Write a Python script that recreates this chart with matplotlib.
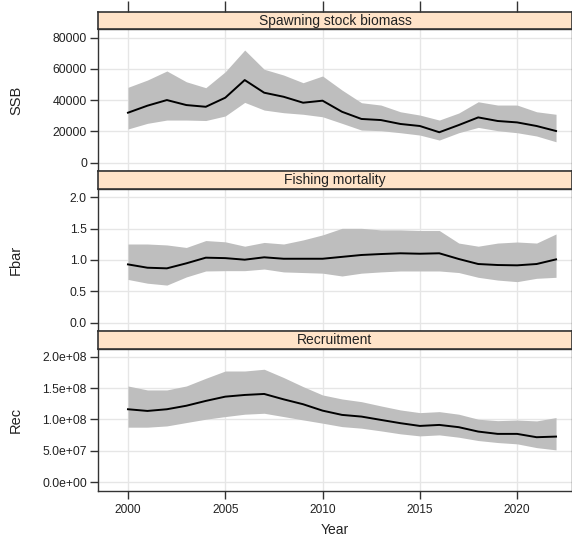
import numpy as np
import matplotlib
matplotlib.use("Agg")
from matplotlib import pyplot as plt

plt.rcParams['font.family'] = ['Liberation Sans', 'DejaVu Sans']

years = np.arange(2000, 2023)

ssb = [32000, 36500, 40100, 36900, 35800, 41600, 52900, 44800, 42200, 38400, 39700, 32600,
       28000, 27300, 24800, 23500, 19500, 24100, 29000, 26700, 25800, 23500, 20300]
ssb_hi = [48250, 52900, 58700, 51800, 48000, 58200, 72100, 59800, 56100, 51200, 55500, 46500,
          38400, 36900, 32600, 30500, 27300, 31800, 39000, 36900, 36900, 32600, 31000]
ssb_lo = [21570, 25200, 27300, 27300, 27000, 29900, 38600, 33700, 32000, 31000, 29400, 25200,
          20900, 20500, 19200, 17700, 14500, 19200, 22600, 20500, 19200, 17100, 13400]

fbar = [0.93, 0.877, 0.867, 0.947, 1.037, 1.03, 1.005, 1.043, 1.02, 1.02, 1.02, 1.05,
        1.08, 1.095, 1.107, 1.10, 1.107, 1.016, 0.936, 0.92, 0.915, 0.936, 1.01]
fbar_hi = [1.255, 1.255, 1.24, 1.20, 1.31, 1.29, 1.22, 1.28, 1.255, 1.32, 1.40, 1.505,
           1.505, 1.48, 1.48, 1.47, 1.47, 1.27, 1.22, 1.27, 1.287, 1.27, 1.415]
fbar_lo = [0.69, 0.63, 0.60, 0.73, 0.825, 0.83, 0.83, 0.856, 0.81, 0.80, 0.79, 0.745,
           0.79, 0.81, 0.825, 0.825, 0.825, 0.80, 0.724, 0.68, 0.655, 0.708, 0.724]

rec = [1.162, 1.135, 1.162, 1.218, 1.295, 1.363, 1.39, 1.406, 1.32, 1.242, 1.14, 1.072,
       1.045, 0.992, 0.94, 0.896, 0.912, 0.876, 0.806, 0.769, 0.769, 0.716, 0.726]
rec_hi = [1.533, 1.47, 1.47, 1.533, 1.656, 1.772, 1.772, 1.80, 1.668, 1.523, 1.39, 1.326,
          1.283, 1.215, 1.151, 1.108, 1.124, 1.083, 1.003, 0.98, 0.99, 0.976, 1.029]
rec_lo = [0.876, 0.876, 0.896, 0.95, 1.003, 1.045, 1.083, 1.098, 1.045, 0.992, 0.94, 0.885,
          0.86, 0.817, 0.77, 0.737, 0.753, 0.716, 0.663, 0.631, 0.61, 0.55, 0.514]
rec = np.array(rec) * 1e8
rec_hi = np.array(rec_hi) * 1e8
rec_lo = np.array(rec_lo) * 1e8

titles = ["Spawning stock biomass", "Fishing mortality", "Recruitment"]
ylabels = ["SSB", "Fbar", "Rec"]
yticks = [[0, 20000, 40000, 60000, 80000],
          [0.0, 0.5, 1.0, 1.5, 2.0],
          [0, 5e7, 1e8, 1.5e8, 2e8]]
yticklabels = [["0", "20000", "40000", "60000", "80000"],
               ["0.0", "0.5", "1.0", "1.5", "2.0"],
               ["0.0e+00", "5.0e+07", "1.0e+08", "1.5e+08", "2.0e+08"]]
ylims = [(-5300, 85570), (-0.132, 2.132), (-0.134e8, 2.123e8)]
xticks = [2000, 2005, 2010, 2015, 2020]

W, H = 572, 537
fig = plt.figure(figsize=(W / 100, H / 100), dpi=100)

# pixel rows: (strip top, panel top, panel bottom)
rows = [(12, 29, 171), (171, 189, 331), (331, 349, 490.5)]
left_px = 98
xlim = (1998.46, 2022.82)
frame_col = "#333333"
series = [(ssb, ssb_lo, ssb_hi), (fbar, fbar_lo, fbar_hi), (rec, rec_lo, rec_hi)]

for i, (st, pt, pb) in enumerate(rows):
    ax = fig.add_axes([left_px / W, 1 - pb / H, 1 - left_px / W, (pb - pt) / H])
    mid, lo, hi = series[i]
    ax.fill_between(years, lo, hi, color="#bebebe", lw=0, zorder=2)
    ax.plot(years, mid, color="black", lw=1.4, zorder=3)
    ax.set_xlim(*xlim)
    ax.set_ylim(*ylims[i])
    ax.set_yticks(yticks[i])
    ax.set_yticklabels(yticklabels[i])
    ax.set_xticks(xticks)
    ax.grid(True, color="#e6e6e6", lw=1.0, zorder=0)
    ax.set_axisbelow(True)
    for s in ax.spines.values():
        s.set_color(frame_col)
        s.set_linewidth(1.0)
    ax.tick_params(axis="y", direction="out", length=5.5, width=1, color=frame_col,
                   labelsize=8.8, labelcolor="#222222", pad=2.5)
    ax.set_ylabel(ylabels[i], fontsize=10.5, color="#222222")
    ax.yaxis.set_label_coords(-0.158, 0.5)
    if i == 2:
        ax.tick_params(axis="x", direction="out", length=6, width=1, color=frame_col,
                       labelsize=8.6, labelcolor="#222222", pad=4)
        ax.set_xlabel("Year", fontsize=10, color="#222222", labelpad=5)
    else:
        ax.tick_params(axis="x", length=0, labelbottom=False)

    sax = fig.add_axes([left_px / W, 1 - pt / H, 1 - left_px / W, (pt - st) / H])
    sax.set_facecolor("#ffe3c8")
    sax.set_xlim(*xlim)
    sax.set_yticks([])
    for s in sax.spines.values():
        s.set_color(frame_col)
        s.set_linewidth(1.2)
    if i == 0:
        sax.set_xticks(xticks)
        sax.tick_params(axis="x", top=True, bottom=False, labeltop=False, labelbottom=False,
                        direction="out", length=8, width=1, color=frame_col)
    else:
        sax.set_xticks([])
    sax.text(0.5, 0.5, titles[i], transform=sax.transAxes, ha="center", va="center",
             fontsize=10, color="#222222")

fig.savefig("out.png", dpi=100)
